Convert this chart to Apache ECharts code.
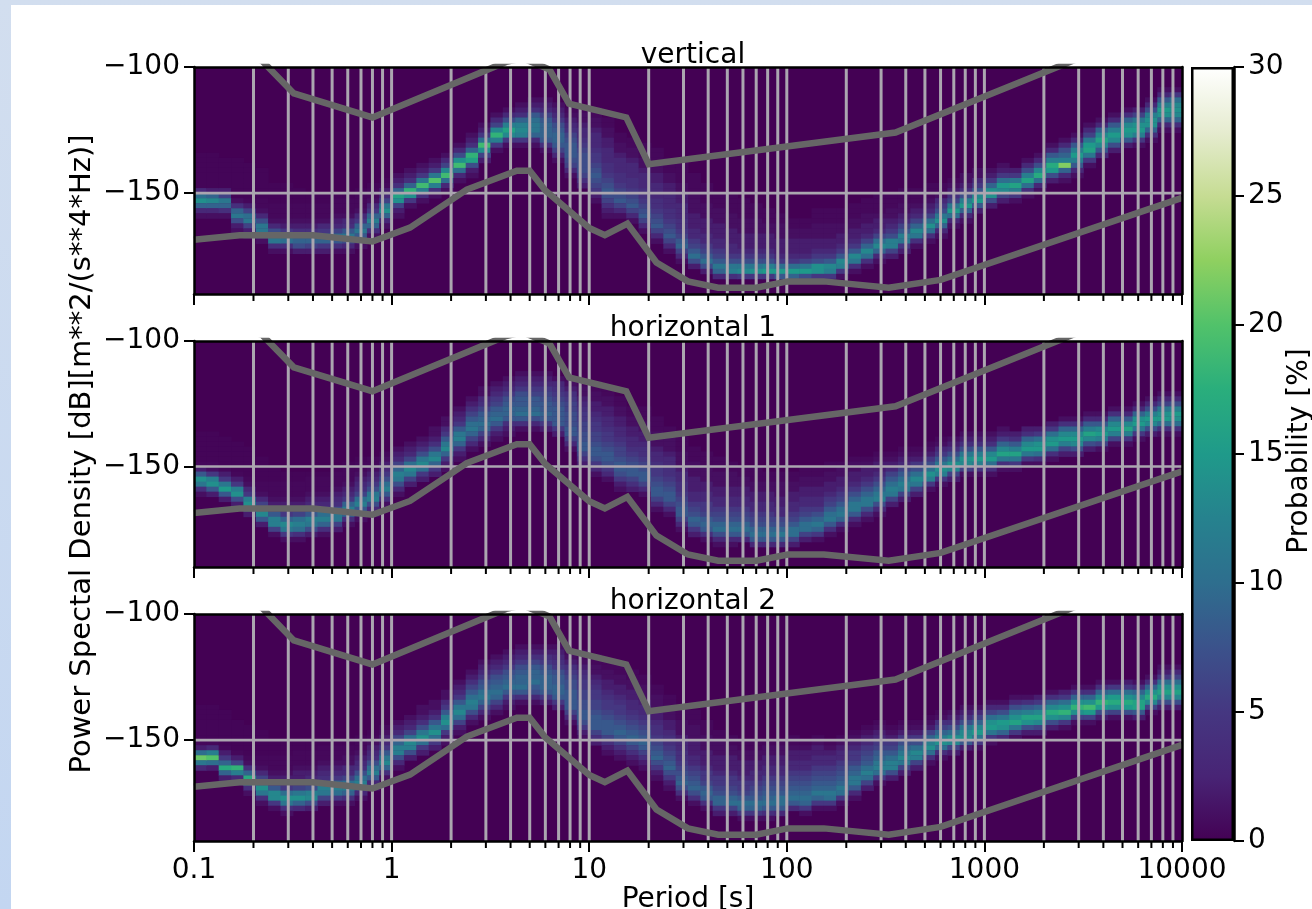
<!DOCTYPE html>
<html>
<head>
<meta charset="utf-8">
<script src="https://cdn.jsdelivr.net/npm/echarts@6/dist/echarts.min.js"></script>
<style>
html,body{margin:0;padding:0;width:1312px;height:909px;overflow:hidden;background:linear-gradient(#d2deef,#c3d6f1);}
#sheet{position:absolute;left:11px;top:5px;right:0;bottom:0;background:#fff;}
#chart{position:absolute;left:0;top:0;width:1312px;height:909px;}
</style>
</head>
<body>
<div id="sheet"></div>
<div id="chart"></div>
<script>
const panelNames = ['vertical', 'horizontal 1', 'horizontal 2'];
const binsPerDecade = 16;
const probabilityTicks = [0, 5, 10, 15, 20, 25, 30];
const colormap = ['#440154','#482475','#453781','#3b528b','#2e6e8e','#26828e','#1f9a8a','#2aae7c','#51c26a','#8fd060','#c6dc93','#e6ecd0','#ffffff'];
const decades = [0.1, 1, 10, 100, 1000, 10000];
const gridPeriods = [0.2,0.3,0.4,0.5,0.6,0.7,0.8,0.9,1,2,3,4,5,6,7,8,9,10,20,30,40,50,60,70,80,90,100,200,300,400,500,600,700,800,900,1000,2000,3000,4000,5000,6000,7000,8000,9000];
const highNoise = [[0.1,-91.5],[0.22,-97.4],[0.32,-110.5],[0.8,-120],[3.8,-98],[4.6,-96.5],[6.3,-101],[7.9,-114.5],[15.4,-120],[20,-138.5],[354.8,-126],[10000,-80]];
const lowNoise = [[0.1,-168.5],[0.17,-166.7],[0.4,-166.7],[0.8,-169.2],[1.24,-163.7],[2.4,-148.6],[4.3,-141.1],[5,-141.1],[6,-149],[10,-163.8],[12,-166.7],[15.6,-162.1],[21.9,-177.5],[31.6,-185],[45,-187.5],[70,-187.5],[101,-185],[154,-185],[328,-187.5],[600,-184.4],[10000,-151.9]];

// Each column: [top dB of first 2 dB bin, probability (%) per bin going down]
const verticalCols = [
[-134,.3,.3,.3,.3,.3,.3,.3,3,10,14,9,3,1],[-134,.3,.3,.3,.3,.3,.3,.3,2,9,13,9,3,1],[-136,.3,.3,.3,.3,.3,.3,2,6,11,9,4,1],[-136,.3,.3,.3,.3,.3,.3,.3,.3,1,4,9,11,7,2,1],
[-138,.3,.3,.3,.3,.3,.3,.3,.5,2,6,10,11,6,2,1],[-140,.3,.3,.3,.3,.3,.3,.5,.5,1,3,7,11,11,5,1],[-146,.3,.3,.3,.3,.5,.5,.5,1,3,7,12,11,4,1],[-146,.3,.3,.3,.3,.5,.5,.5,1,2,5,11,10,4,1],
[-148,.3,.3,.3,.5,.5,.5,1,2,4,9,9,7,2],[-150,.3,.3,.5,.5,.5,1,2,4,9,9,6,2],[-150,.3,.3,.5,.5,.5,1,3,5,9,9,5,2],[-150,.3,.5,.5,.5,1,2,3,6,10,8,4,1],
[-150,.3,.5,.5,.5,1,3,4,8,11,7,3,1],[-148,.3,.5,.5,.5,1,3,5,9,11,8,3,1],[-146,.3,.5,.5,1,3,5,9,12,9,4,1],[-144,.3,.5,2,3,6,11,14,9,3,1],
[-142,1,2,4,9,16,14,6,2,1],[-140,1,2,4,9,18,14,5,1],[-138,1,2,5,11,19,12,4,1],[-136,1,2,5,11,20,12,4,1],
[-134,1,3,6,13,19,10,3,1],[-130,1,3,7,14,19,10,3,1],[-126,1,2,4,9,18,16,7,2,1],[-122,1,2,5,10,19,14,6,2],
[-118,1,3,6,13,18,12,5,1],[-116,1,3,7,12,16,13,5,1],[-114,1,2,4,9,12,13,12,5,1],[-112,1,2,4,8,10,11,11,9,3,1],
[-112,1,2,3,6,8,9,9,9,8,4,1],[-114,1,2,3,5,7,8,9,9,8,6,3,1],[-116,.5,1,2,3,4,6,7,8,8,8,7,6,3,1],[-116,.5,1,1,2,3,3,4,5,6,7,7,7,7,6,4,2],
[-116,.5,.5,1,1,2,3,3,3,4,5,5,6,7,8,7,6,5,2,1],[-120,.5,.5,1,1,2,2,3,3,3,4,4,5,6,7,8,7,6,4,2,1],[-126,.5,.5,1,1,2,3,3,3,4,4,5,6,7,8,6,3,1],[-128,.5,.5,1,1,2,3,3,3,4,4,5,6,7,8,6,3,1],
[-130,.5,.5,.5,1,1,2,3,3,3,4,4,5,6,7,8,6,3,1],[-132,.5,.5,.5,1,1,2,2,3,3,3,4,4,5,6,7,8,6,3,1],[-136,.5,.5,.5,1,1,2,2,3,3,3,4,4,5,6,7,8,6,3,1],[-138,.5,.5,.5,.5,1,1,2,2,3,3,3,4,4,5,6,8,9,6,3,1],
[-142,.5,.5,.5,.5,1,1,1,1,2,2,2,3,3,5,6,8,10,7,2],[-146,.5,.5,.5,.5,1,1,1,2,2,2,3,3,5,6,8,10,7,2],[-150,.5,.5,.5,1,1,1,2,2,2,3,3,5,6,8,11,9,3],[-150,.5,.5,.5,.5,1,1,1,2,2,2,3,3,5,7,11,12,4],
[-152,.5,.5,.5,.5,1,1,1,2,2,2,3,5,7,11,13,5],[-154,.5,.5,.5,1,1,1,2,2,2,3,5,7,11,14,5],[-156,.5,.5,.5,1,1,2,2,2,3,5,7,12,15,5],[-158,.5,.5,1,1,1,2,2,2,3,5,10,15,8],
[-160,.5,.5,1,1,2,2,2,3,5,10,15,9,2],[-160,.5,.5,1,1,2,2,2,3,6,11,15,7,1],[-156,.5,.5,.5,1,1,1,2,2,3,5,7,14,14,5],[-156,.5,.5,.5,1,1,1,2,2,3,5,8,13,12,5,1],
[-156,.5,.5,.5,1,1,2,2,3,5,8,13,12,5,1],[-154,.5,.5,.5,1,1,2,2,3,5,8,13,11,4,1],[-152,.5,.5,.5,1,1,2,2,3,6,9,13,10,4,1],[-150,.5,.5,.5,.5,1,2,2,3,6,10,13,9,3,1],
[-150,.5,.5,.5,1,1,2,3,5,7,12,12,6,2],[-148,.5,.5,.5,1,1,2,3,6,8,12,11,5,2],[-148,.5,.5,.5,1,2,3,6,9,13,11,4,1],[-146,.5,.5,.5,1,2,3,6,10,14,10,4,1],
[-146,.5,.5,1,3,5,7,11,14,9,3,1],[-144,.5,1,2,4,6,11,15,10,3,1],[-142,1,1,2,4,7,12,15,9,3,1],[-140,1,1,3,5,8,13,15,8,2],
[-140,1,2,5,9,14,14,7,2],[-138,1,2,5,10,15,13,6,2],[-140,2,5,11,16,12,5,1],[-136,1,3,7,12,16,10,4,1],
[-134,1,3,7,13,17,10,3,1],[-130,1,3,8,12,17,15,7,2],[-128,1,3,7,9,12,22,9,3,1],[-126,1,3,8,12,15,12,8,3,1],
[-122,1,3,6,11,15,16,11,5,1],[-120,1,3,9,13,16,13,8,3],[-118,1,3,8,12,15,13,7,2],[-116,1,4,9,13,15,14,8,2],
[-116,2,6,11,14,15,12,5,1],[-112,1,3,7,12,14,14,9,4,1],[-108,1,3,8,12,15,14,9,3,1],[-108,1,5,10,13,14,13,9,4,1]
];
const horizontal1Cols = [
[-136,.3,.3,.3,.3,.3,.3,.5,2,8,14,11,4,1],[-136,.3,.3,.3,.3,.3,.3,.5,1,5,12,14,8,2],[-138,.3,.3,.3,.3,.3,.3,.5,2,5,11,15,8,2],[-140,.3,.3,.3,.3,.3,.3,.5,2,5,12,14,7,2],
[-142,.3,.3,.3,.3,.3,.3,.5,1,3,5,12,14,7,2],[-146,.3,.3,.3,.3,.3,.5,.5,1,3,6,12,13,8,2],[-150,.3,.3,.3,.5,.5,.5,1,2,4,8,12,12,6,1],[-152,.3,.3,.5,.5,.5,1,2,3,5,9,13,11,5,1],
[-152,.3,.3,.5,.5,.5,1,2,3,6,10,12,10,4,1],[-152,.3,.5,.5,.5,1,2,3,5,8,12,11,7,2],[-152,.3,.5,.5,.5,1,2,3,6,10,12,9,4,1],[-150,.3,.5,.5,.5,1,2,3,4,7,11,11,6,2],
[-148,.3,.5,.5,.5,1,2,3,5,9,12,9,4,1],[-146,.3,.5,.5,1,2,3,4,6,10,12,8,3,1],[-146,.5,.5,1,2,3,5,7,11,12,7,3,1],[-144,.5,1,2,3,5,7,10,12,8,4,1],
[-142,1,2,3,6,9,12,11,7,3,1],[-140,1,2,3,6,10,13,11,6,2],[-138,1,2,4,7,11,13,10,5,2],[-134,1,1,2,4,7,11,13,9,5,2],
[-130,1,1,3,5,8,11,13,9,5,2,1],[-126,1,2,3,5,8,11,12,9,5,2,1],[-122,1,2,4,6,8,10,11,9,6,3,1],[-118,1,1,3,4,6,8,9,10,9,6,3,1],
[-116,1,2,3,5,6,8,9,10,8,5,2,1],[-114,1,2,3,5,7,8,9,9,8,4,2,1],[-112,1,2,3,5,7,8,8,9,10,8,4,1],[-112,1,2,3,5,6,8,8,9,10,7,3,1],
[-112,1,2,3,5,6,7,8,8,9,8,5,2],[-114,1,3,4,5,6,7,8,8,8,8,5,2],[-114,.5,1,2,4,5,6,6,7,7,7,8,8,6,3,1],[-116,.5,1,1,2,3,4,5,5,6,6,7,7,8,8,6,4,2],
[-116,.5,.5,1,1,2,2,3,4,5,5,6,6,7,8,8,7,5,3,1],[-118,.5,.5,1,1,2,2,3,3,4,5,5,6,7,8,8,7,5,3,1],[-122,.5,.5,1,1,2,2,3,3,4,5,6,6,7,8,8,7,5,2,1],[-126,.5,.5,1,1,2,2,3,3,4,5,6,7,8,8,6,4,2],
[-126,.5,.5,.5,1,1,2,2,3,4,4,5,6,7,8,8,6,3,1],[-130,.5,.5,.5,1,1,1,2,3,3,4,5,5,6,7,8,8,6,3,1],[-134,.5,.5,1,1,1,2,3,3,4,4,5,6,7,8,8,6,3,1],[-138,.5,.5,.5,1,1,1,2,3,3,4,4,5,6,7,8,8,6,3,1],
[-142,.5,.5,.5,1,1,1,2,2,2,3,3,5,6,7,9,8,5,2],[-144,.5,.5,.5,1,1,1,2,2,3,3,5,5,6,8,9,8,4,1],[-146,.5,.5,.5,1,1,1,2,2,3,3,5,6,7,9,10,7,3,1],[-148,.5,.5,1,1,1,2,2,3,3,5,6,7,9,10,8,3,1],
[-150,.5,.5,1,1,2,2,3,3,5,6,7,9,10,8,3],[-150,.5,.5,.5,1,1,2,2,3,3,5,6,7,9,10,8,3],[-152,.5,.5,1,1,2,2,3,3,5,6,7,9,10,8,3],[-152,.5,.5,1,1,1,2,2,3,3,6,7,9,11,8,3],
[-152,.5,.5,1,1,2,2,3,3,5,6,8,10,10,6,2],[-150,.5,.5,1,1,2,2,3,3,5,6,8,10,10,6,2],[-150,.5,.5,1,1,2,2,3,3,5,7,9,11,9,5,1],[-148,.5,.5,1,1,2,2,3,5,6,8,10,11,8,4,1],
[-148,.5,1,1,2,2,3,5,6,8,10,11,9,4,1],[-146,.5,1,1,2,2,3,5,7,9,11,11,8,3,1],[-146,.5,1,2,2,3,5,7,9,11,11,7,3,1],[-144,.5,1,2,2,3,5,7,9,11,12,7,3,1],
[-144,.5,1,2,3,6,8,10,12,11,6,2],[-142,.5,1,2,3,6,8,10,12,11,6,2],[-142,.5,1,2,5,7,10,13,11,6,2],[-140,.5,1,2,5,7,10,14,12,5,1],
[-138,.5,1,3,5,8,11,14,12,5,1],[-138,1,2,4,7,10,14,13,6,2],[-136,1,2,4,7,11,14,13,6,1],[-136,1,2,4,8,12,15,12,5,1],
[-136,1,2,4,8,13,15,10,4,1],[-134,1,2,5,9,13,16,11,4,1],[-136,2,4,8,12,16,11,5,1],[-134,2,4,9,13,15,11,5,1],
[-134,2,5,10,14,15,10,4,1],[-132,2,5,10,14,15,10,4,1],[-130,1,4,9,13,15,12,6,2],[-130,1,4,9,13,15,13,7,2],
[-128,1,3,8,12,16,13,7,2],[-128,1,3,8,13,15,12,6,1],[-126,1,4,9,13,15,12,6,1],[-126,1,3,8,13,16,12,5,1],
[-124,1,3,9,14,15,11,5,1],[-122,1,3,7,12,15,13,7,2],[-120,1,3,6,11,14,15,10,4,1],[-120,1,3,7,12,15,14,10,4,1]
];
const horizontal2Cols = [
[-136,.3,.3,.3,.3,.3,.3,.3,.5,2,10,21,11,3],[-136,.3,.3,.3,.3,.3,.3,.3,.5,3,12,20,10,2],[-138,.3,.3,.3,.3,.3,.3,.3,.5,2,5,9,17,9,2],[-142,.3,.3,.3,.3,.3,.3,.5,2,6,18,12,3,1],
[-144,.3,.3,.3,.3,.3,.3,.5,1,4,9,17,13,4,1],[-146,.3,.3,.3,.3,.3,.5,.5,1,3,6,11,14,11,4,1],[-150,.3,.3,.3,.5,.5,.5,1,2,4,8,13,13,5,1],[-150,.3,.3,.3,.5,.5,.5,1,2,3,5,10,14,11,4,1],
[-150,.3,.3,.5,.5,.5,1,2,2,3,6,11,14,9,3],[-150,.3,.3,.5,.5,.5,1,2,3,4,7,12,13,7,2],[-150,.3,.5,.5,.5,1,2,3,4,8,12,11,6,2],[-150,.3,.5,.5,.5,1,2,3,5,9,12,10,5,1],
[-150,.3,.5,.5,1,1,3,3,6,10,12,9,4,1],[-148,.3,.5,.5,1,2,3,4,7,10,12,8,3,1],[-146,.3,.5,1,2,3,4,7,10,12,8,3,1],[-144,.5,1,2,3,5,8,11,13,9,4,1],
[-142,1,2,3,6,9,12,12,7,3,1],[-140,1,2,3,6,10,13,12,7,2],[-136,1,1,2,4,7,11,14,10,5,2],[-134,1,1,2,4,8,11,14,10,5,2],
[-130,1,1,3,5,8,12,14,10,5,2,1],[-126,1,2,3,5,8,11,13,10,6,2,1],[-122,1,2,4,6,8,10,12,11,7,3,1],[-118,1,2,3,5,7,8,10,11,9,6,3,1],
[-116,1,2,3,5,7,8,9,10,9,6,3,1],[-114,1,2,3,5,7,8,9,10,8,5,2,1],[-112,1,2,3,5,7,8,9,9,10,8,4,1],[-112,1,2,4,6,8,9,9,10,8,7,3,1],
[-112,1,2,4,5,7,8,9,9,9,8,5,2],[-112,1,2,3,4,5,7,8,8,9,9,8,5,2],[-114,.5,1,2,4,5,6,7,7,8,8,8,8,6,3,1],[-114,.5,.5,1,2,3,4,5,5,6,6,7,7,8,8,7,5,2,1],
[-116,.5,.5,1,1,2,3,4,5,5,6,6,7,8,8,8,6,4,2],[-118,.5,.5,1,1,2,2,3,4,5,5,6,7,8,8,8,6,4,2,1],[-120,.5,.5,1,1,2,2,3,4,5,5,6,7,8,9,8,6,4,2,1],[-122,.5,.5,1,1,2,2,3,3,4,5,6,7,8,9,8,6,4,2,1],
[-124,.5,.5,1,1,1,2,3,3,4,5,6,7,8,9,8,6,4,2,1],[-128,.5,.5,1,1,1,2,2,3,4,4,5,6,7,8,9,7,5,2,1],[-132,.5,.5,1,1,1,2,2,3,4,4,5,6,7,8,9,7,5,2,1],[-136,.5,.5,.5,1,1,1,2,3,3,4,4,5,6,7,8,9,7,4,1],
[-138,.5,.5,.5,1,1,1,2,2,2,3,3,5,6,7,8,9,7,4,1],[-142,.5,.5,.5,1,1,1,2,2,2,3,5,5,6,8,9,8,4,1],[-146,.5,.5,1,1,1,2,2,2,3,5,5,6,7,9,9,5,2],[-148,.5,.5,1,1,2,2,2,3,5,5,6,7,9,10,6,2],
[-150,.5,.5,1,1,2,2,2,3,5,5,6,8,10,9,5,1],[-150,.5,.5,1,1,2,2,3,3,5,6,7,8,10,9,5,1],[-150,.5,1,1,2,2,3,3,5,6,7,8,9,10,8,4,1],[-150,.5,1,1,2,2,3,3,5,6,7,8,10,10,8,3],
[-148,.5,.5,1,2,2,3,3,5,6,7,8,9,10,8,3],[-150,.5,1,2,2,3,3,5,6,7,8,9,10,9,5,1],[-148,.5,1,2,2,3,3,5,6,7,8,9,11,9,5,1],[-150,.5,1,2,3,3,5,6,7,8,9,11,10,5,1],
[-148,.5,1,2,3,3,5,6,7,8,9,11,10,5,1],[-146,.5,1,2,3,5,5,6,8,9,11,11,8,3,1],[-144,.5,1,2,3,5,6,7,8,10,12,10,6,2],[-142,.5,1,2,3,5,6,8,9,11,12,10,5,1],
[-144,.5,1,2,5,6,8,10,12,12,7,2],[-142,.5,1,2,5,7,9,11,13,11,6,2],[-142,.5,1,2,5,7,10,13,12,6,2],[-140,.5,1,2,6,9,12,14,10,4,1],
[-138,.5,1,4,6,9,12,14,10,4,1],[-138,1,2,4,7,10,14,13,6,2],[-136,1,2,4,7,11,13,14,8,2],[-136,1,3,6,9,13,15,11,5,1],
[-134,1,3,6,10,14,15,11,5,1],[-134,1,3,7,11,15,14,9,3],[-132,1,3,7,11,14,16,11,5,1],[-132,1,4,8,12,16,14,7,2],
[-132,2,5,9,13,16,13,6,2],[-130,1,4,9,13,17,14,7,2],[-130,2,5,10,14,18,13,5,1],[-128,1,4,9,14,18,14,6,1],
[-128,1,4,9,14,19,15,6,1],[-126,1,4,9,14,18,15,7,2],[-126,1,5,10,15,17,14,6,1],[-126,2,5,10,14,17,15,7,1],
[-126,1,4,9,13,16,16,8,2],[-124,1,4,9,14,17,13,6,1],[-120,1,2,5,10,14,16,13,7,2],[-120,1,3,6,10,14,16,13,7,2]
];
const panelCols = [verticalCols, horizontal1Cols, horizontal2Cols];

const FONT = "'DejaVu Sans'";
const layout = [{top:67,height:227},{top:341,height:226},{top:614,height:227}];
const LEFT = 194, WIDTH = 988;

function cellsOf(cols){
  const out = [];
  cols.forEach((col,i)=>{
    const p0 = 0.1*Math.pow(10,i/binsPerDecade), p1 = 0.1*Math.pow(10,(i+1)/binsPerDecade);
    for(let k=1;k<col.length;k++){
      const top = col[0]-2*(k-1);
      out.push([p0,p1,top,top-2,col[k]]);
    }
  });
  return out;
}
function renderCell(params,api){
  const a = api.coord([api.value(0),api.value(2)]);
  const b = api.coord([api.value(1),api.value(3)]);
  return {type:'rect',shape:{x:a[0],y:a[1],width:b[0]-a[0]+0.6,height:b[1]-a[1]+0.4},style:{fill:api.visual('color')}};
}
function renderGrid(params,api){
  const p = api.value(0);
  const t = api.coord([p,-100]), b = api.coord([p,-190]);
  const kids = [{type:'line',shape:{x1:t[0],y1:t[1],x2:b[0],y2:b[1]},style:{stroke:'#aba6b0',lineWidth:3}}];
  if(decades.indexOf(p)<0) kids.push({type:'line',shape:{x1:b[0],y1:b[1],x2:b[0],y2:b[1]+7},style:{stroke:'#000',lineWidth:2}});
  return {type:'group',children:kids};
}

const grid=[],xAxis=[],yAxis=[],series=[];
layout.forEach((g,p)=>{
  grid.push({left:LEFT,width:WIDTH,top:g.top,height:g.height,show:true,backgroundColor:'#440154',borderWidth:0,containLabel:false});
  xAxis.push({type:'log',logBase:10,gridIndex:p,min:0.1,max:10000,splitNumber:5,position:'bottom',z:10,
    axisLine:{show:true,lineStyle:{color:'#000',width:2.5}},
    axisTick:{show:true,length:11,lineStyle:{color:'#000',width:2}},
    minorTick:{show:false},splitLine:{show:false},minorSplitLine:{show:false},
    axisLabel:{show:p===2,color:'#000',fontFamily:FONT,fontSize:28,margin:16,formatter:v=>String(v),showMinLabel:true,showMaxLabel:true,hideOverlap:false}});
  xAxis.push({type:'value',gridIndex:p,min:0,max:1,position:'top',z:10,
    axisLine:{show:true,onZero:false,lineStyle:{color:'#000',width:2.5}},axisTick:{show:false},axisLabel:{show:false},splitLine:{show:false}});
  yAxis.push({type:'value',gridIndex:p,min:-190,max:-100,position:'left',z:10,
    axisLine:{show:true,onZero:false,lineStyle:{color:'#000',width:2.5}},
    axisTick:{show:true,length:10,customValues:[-150,-100],lineStyle:{color:'#000',width:2}},
    axisLabel:{show:true,customValues:[-150,-100],color:'#000',fontFamily:FONT,fontSize:28,margin:14,padding:[3,0,0,0],formatter:v=>'\u2212'+Math.abs(v)},
    splitLine:{show:false}});
  yAxis.push({type:'value',gridIndex:p,min:0,max:1,position:'right',z:10,
    axisLine:{show:true,onZero:false,lineStyle:{color:'#000',width:2.5}},axisTick:{show:false},axisLabel:{show:false},splitLine:{show:false}});
});
layout.forEach((g,p)=>{
  series.push({type:'custom',name:panelNames[p],coordinateSystem:'cartesian2d',xAxisIndex:p*2,yAxisIndex:p*2,
    data:cellsOf(panelCols[p]),encode:{x:[0,1],y:[2,3]},renderItem:renderCell,silent:true,z:1,clip:true,animation:false,progressive:0});
});
layout.forEach((g,p)=>{
  series.push({type:'custom',coordinateSystem:'cartesian2d',xAxisIndex:p*2,yAxisIndex:p*2,
    data:gridPeriods.map(v=>[v]),encode:{x:0},renderItem:renderGrid,silent:true,z:2,clip:false,animation:false});
  series.push({type:'line',xAxisIndex:p*2,yAxisIndex:p*2,data:[[0.1,-150],[10000,-150]],showSymbol:false,silent:true,z:2,animation:false,
    lineStyle:{color:'#aba6b0',width:2.6}});
  [highNoise,lowNoise].forEach(n=>series.push({type:'line',xAxisIndex:p*2,yAxisIndex:p*2,data:n,showSymbol:false,silent:true,z:3,animation:false,clip:true,
    lineStyle:{color:'#666666',width:6.5,join:'miter'}}));
});
// colour bar
grid.push({left:1191,width:43,top:67,height:774,show:false});
xAxis.push({type:'category',gridIndex:3,data:['p'],show:false});
yAxis.push({type:'value',gridIndex:3,min:0,max:30,interval:5,position:'right',z:10,
  axisLine:{show:true,onZero:false,lineStyle:{color:'#000',width:2.5}},
  axisTick:{show:true,length:10,lineStyle:{color:'#000',width:2}},
  axisLabel:{show:true,color:'#000',fontFamily:FONT,fontSize:28,margin:14,padding:[3,0,0,0],customValues:probabilityTicks},
  splitLine:{show:false}});
series.push({type:'bar',xAxisIndex:6,yAxisIndex:6,data:[30],barWidth:'100%',silent:true,animation:false,
  itemStyle:{borderColor:'#000',borderWidth:2.5,color:{type:'linear',x:0,y:1,x2:0,y2:0,colorStops:colormap.map((c,i)=>({offset:i/(colormap.length-1),color:c}))}}});

const option = {
  animation:false,
  backgroundColor:'transparent',
  title:[
    {text:panelNames[0],left:688,top:37,textAlign:'center',textStyle:{fontFamily:FONT,fontSize:28,fontWeight:'normal',color:'#000'}},
    {text:panelNames[1],left:688,top:310,textAlign:'center',textStyle:{fontFamily:FONT,fontSize:28,fontWeight:'normal',color:'#000'}},
    {text:panelNames[2],left:688,top:583,textAlign:'center',textStyle:{fontFamily:FONT,fontSize:28,fontWeight:'normal',color:'#000'}}
  ],
  visualMap:{show:false,type:'continuous',min:0,max:30,dimension:4,seriesIndex:[0,1,2],inRange:{color:colormap}},
  grid,xAxis,yAxis,series,
  graphic:[
    {type:'text',x:82,y:454,rotation:Math.PI/2,style:{text:'Power Spectal Density [dB][m**2/(s**4*Hz)]',font:"29px 'DejaVu Sans'",fill:'#000',textAlign:'center',textVerticalAlign:'middle'}},
    {type:'text',x:1300,y:451,rotation:Math.PI/2,style:{text:'Probability [%]',font:"28px 'DejaVu Sans'",fill:'#000',textAlign:'center',textVerticalAlign:'middle'}},
    {type:'text',x:688,y:900,style:{text:'Period [s]',font:"28px 'DejaVu Sans'",fill:'#000',textAlign:'center',textVerticalAlign:'middle'}}
  ]
};
const chart = echarts.init(document.getElementById('chart'),null,{renderer:'canvas'});
chart.setOption(option);
</script>
</body>
</html>
